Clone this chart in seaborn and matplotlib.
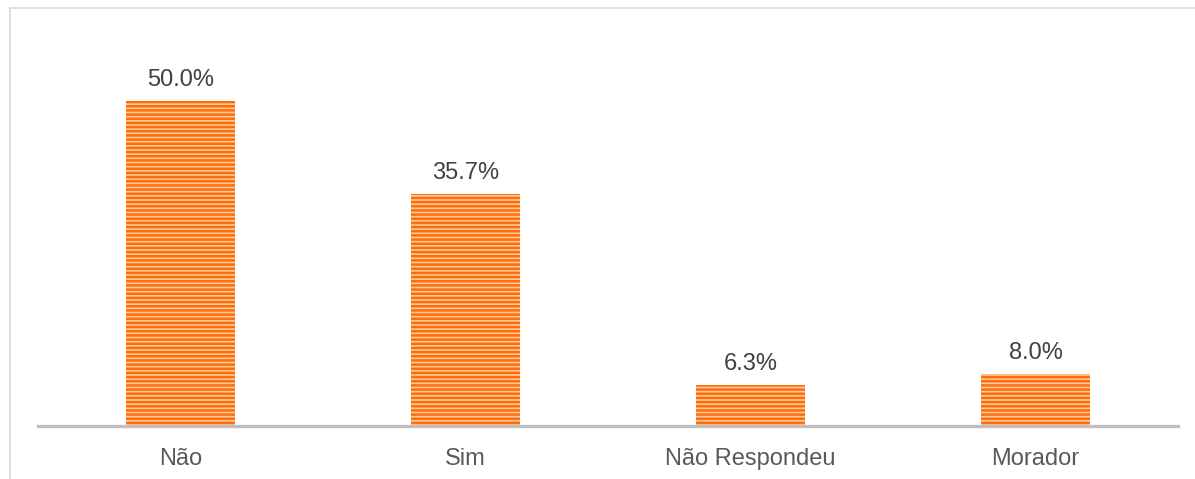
import matplotlib
matplotlib.use("Agg")
import matplotlib.pyplot as plt
import seaborn as sns
import pandas as pd
from matplotlib.lines import Line2D

categories = ["Não", "Sim", "Não Respondeu", "Morador"]
values = [50.0, 35.7, 6.3, 8.0]
value_labels = ["50.0%", "35.7%", "6.3%", "8.0%"]

sns.set_theme(style="white")
plt.rcParams['font.family'] = ['Liberation Sans', 'DejaVu Sans']
plt.rcParams['hatch.linewidth'] = 1.8

df = pd.DataFrame({"cat": categories, "val": values})

fig = plt.figure(figsize=(11.95, 4.79), dpi=100)
ax = fig.add_axes([38/1195, 53/479, 1140/1195, (426-8)/479])

sns.barplot(data=df, x="cat", y="val", color="#FFC99E", width=0.38, ax=ax,
            saturation=1)
for p in ax.patches:
    p.set_hatch("----")
    p.set_edgecolor("#FF6C08")
    p.set_linewidth(0)

for i, (v, lab) in enumerate(zip(values, value_labels)):
    ax.annotate(lab, (i, v), xytext=(0, 7), textcoords="offset points",
                ha="center", va="bottom", fontsize=17, color="#404040")

ax.set_xlim(-0.5, 3.5)
ax.set_ylim(0, 64.3)
ax.set_xlabel("")
ax.set_ylabel("")
ax.set_yticks([])
ax.tick_params(axis="x", length=0, labelsize=17, labelcolor="#595959", pad=15.5)
for s in ["top", "right", "left"]:
    ax.spines[s].set_visible(False)
ax.spines["bottom"].set_color("#BFBFBF")
ax.spines["bottom"].set_linewidth(2.4)

# outer chart frame
fig.add_artist(Line2D([10/1195, 10/1195], [0, 1 - 8/479], transform=fig.transFigure,
                      color="#D9D9D9", lw=1.2))
fig.add_artist(Line2D([10/1195, 1], [1 - 8/479, 1 - 8/479], transform=fig.transFigure,
                      color="#D9D9D9", lw=1.2))

fig.savefig("out.png", dpi=100)
